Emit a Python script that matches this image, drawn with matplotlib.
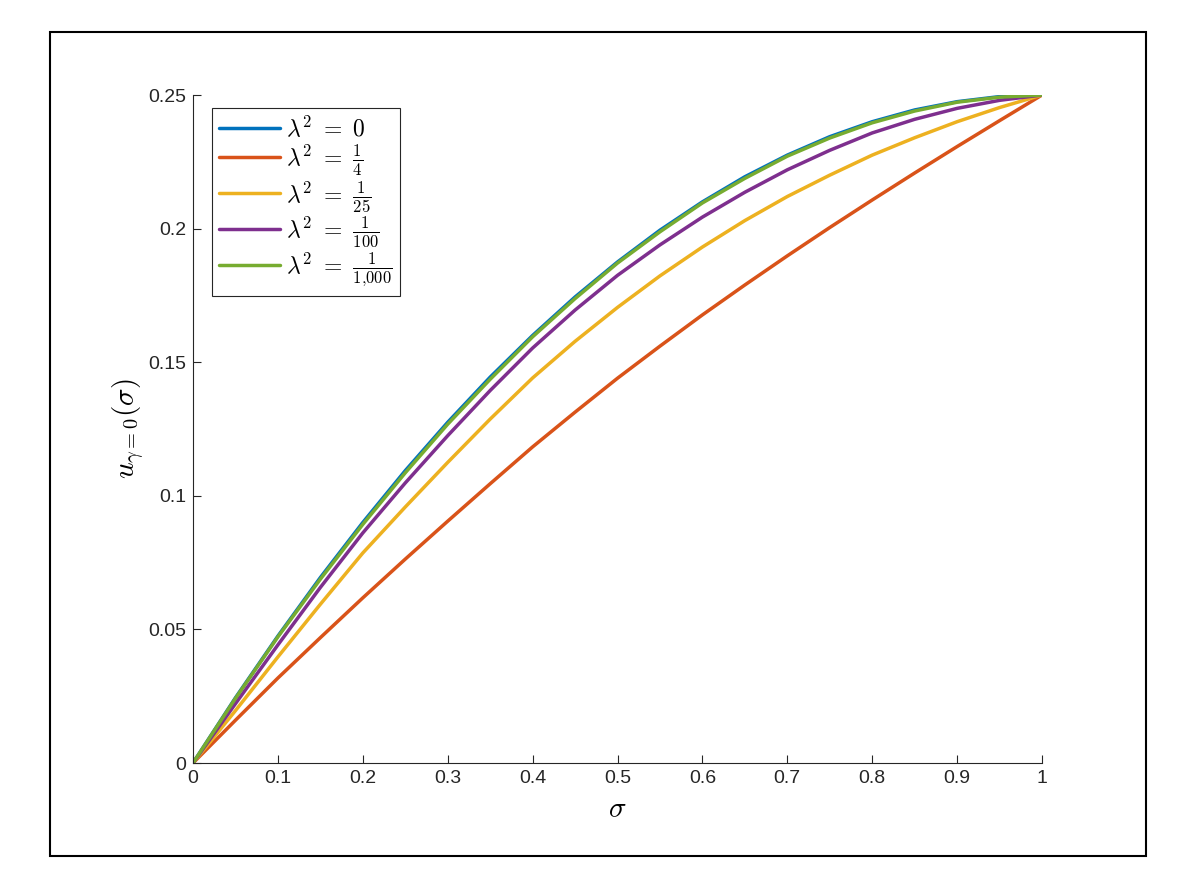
import numpy as np
import matplotlib
matplotlib.use("Agg")
import matplotlib.pyplot as plt
from matplotlib.patches import Rectangle

plt.rcParams['mathtext.fontset'] = 'cm'
plt.rcParams['font.family'] = ['Liberation Sans', 'DejaVu Sans']

# values, sigma = 0, 0.05, ..., 1
sigma = [0.0, 0.05, 0.1, 0.15, 0.2, 0.25, 0.3, 0.35, 0.4, 0.45, 0.5,
         0.55, 0.6, 0.65, 0.7, 0.75, 0.8, 0.85, 0.9, 0.95, 1.0]
u_lam0 = [0.0, 0.0244, 0.0475, 0.0694, 0.0900, 0.1094, 0.1275, 0.1444, 0.1600, 0.1744, 0.1875,
          0.1994, 0.2100, 0.2194, 0.2275, 0.2344, 0.2400, 0.2444, 0.2475, 0.2494, 0.2500]
u_lam_4 = [0.0, 0.0160, 0.0318, 0.0469, 0.0618, 0.0763, 0.0905, 0.1045, 0.1183, 0.1313, 0.1440,
           0.1560, 0.1677, 0.1789, 0.1898, 0.2004, 0.2107, 0.2208, 0.2307, 0.2404, 0.2500]
u_lam_25 = [0.0, 0.0196, 0.0397, 0.0594, 0.0786, 0.0958, 0.1125, 0.1287, 0.1441, 0.1578, 0.1705,
            0.1823, 0.1931, 0.2030, 0.2120, 0.2200, 0.2275, 0.2340, 0.2400, 0.2453, 0.2500]
u_lam_100 = [0.0, 0.0222, 0.0442, 0.0657, 0.0861, 0.1048, 0.1225, 0.1394, 0.1553, 0.1695, 0.1825,
             0.1939, 0.2043, 0.2136, 0.2220, 0.2293, 0.2358, 0.2409, 0.2450, 0.2480, 0.2500]
u_lam_1000 = [0.0, 0.0242, 0.0472, 0.0688, 0.0893, 0.1086, 0.1268, 0.1436, 0.1595, 0.1738, 0.1871,
              0.1988, 0.2096, 0.2188, 0.2271, 0.2339, 0.2396, 0.2440, 0.2473, 0.2492, 0.2500]

labels = [r'$\lambda^2\ =\ 0$',
          r'$\lambda^2\ =\ \frac{1}{4}$',
          r'$\lambda^2\ =\ \frac{1}{25}$',
          r'$\lambda^2\ =\ \frac{1}{100}$',
          r'$\lambda^2\ =\ \frac{1}{1{,}000}$']
colors = ['#0072BD', '#D95319', '#EDB120', '#7E2F8E', '#77AC30']

xticks = [0, 0.1, 0.2, 0.3, 0.4, 0.5, 0.6, 0.7, 0.8, 0.9, 1]
xticklabels = ['0', '0.1', '0.2', '0.3', '0.4', '0.5', '0.6', '0.7', '0.8', '0.9', '1']
yticks = [0, 0.05, 0.1, 0.15, 0.2, 0.25]
yticklabels = ['0', '0.05', '0.1', '0.15', '0.2', '0.25']

axcol = '#262626'

fig = plt.figure(figsize=(11.96, 8.86), dpi=100)
ax = fig.add_axes([193 / 1196, 1 - 763 / 886, 849 / 1196, 668 / 886])

series = [u_lam0, u_lam_4, u_lam_25, u_lam_100, u_lam_1000]
for ys, lab, c in zip(series, labels, colors):
    ax.plot(sigma, ys, color=c, lw=2.5, label=lab, solid_capstyle='round')

ax.set_xlim(0, 1)
ax.set_ylim(0, 0.25)
ax.set_xticks(xticks)
ax.set_xticklabels(xticklabels)
ax.set_yticks(yticks)
ax.set_yticklabels(yticklabels)
ax.spines['top'].set_visible(False)
ax.spines['right'].set_visible(False)
for s in ['left', 'bottom']:
    ax.spines[s].set_color(axcol)
    ax.spines[s].set_linewidth(0.8)
ax.tick_params(direction='in', length=6, width=0.8, colors=axcol,
               labelsize=14, pad=5)

ax.set_xlabel(r'$\sigma$', fontsize=21, labelpad=6)
ax.set_ylabel(r'$u_{\gamma=0}(\sigma)$', fontsize=21, labelpad=1)

leg = ax.legend(loc='upper left', bbox_to_anchor=(19 / 849, 1 - 13 / 668),
                borderaxespad=0, fontsize=17, handlelength=2.6,
                handletextpad=0.25, labelspacing=0.05, borderpad=0.3,
                fancybox=False, framealpha=1)
leg.get_frame().set_edgecolor(axcol)
leg.get_frame().set_linewidth(0.8)

# black frame around the figure
fig.patches.append(Rectangle((50 / 1196, 30 / 886), 1096 / 1196, 824 / 886,
                             transform=fig.transFigure, fill=False,
                             edgecolor='black', lw=1.5))

fig.savefig('out.png', dpi=100)
